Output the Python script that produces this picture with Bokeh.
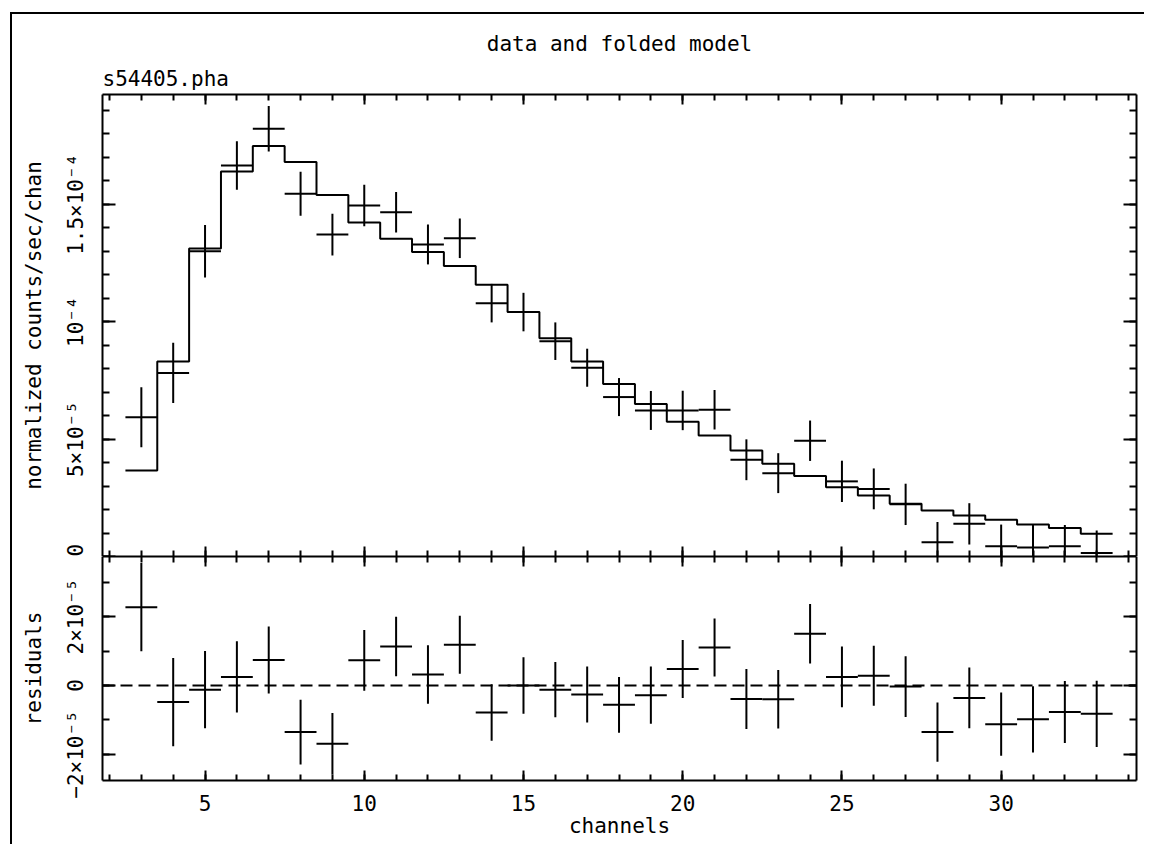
import numpy as np
from bokeh.plotting import figure
from bokeh.models import (LinearAxis, FixedTicker, Range1d, Span, Title,
                          ColumnDataSource, CustomJSTickFormatter)
from bokeh.layouts import column
from bokeh.embed import file_html
from bokeh.resources import INLINE

# ---------------- data (units of 1e-5 counts/sec/chan) ----------------
channels = list(range(3, 34))
data = [5.93, 7.82, 13.00, 16.65, 18.22, 15.45, 13.71, 14.95, 14.66, 13.29,
        13.55, 10.79, 10.41, 9.17, 8.04, 6.79, 6.22, 6.22, 6.25, 4.12,
        3.55, 4.93, 3.20, 2.88, 2.22, 0.61, 1.39, 0.44, 0.38, 0.44, 0.15]
err = [1.28, 1.28, 1.12, 1.03, 0.97, 0.94, 0.89, 0.88, 0.86, 0.85,
       0.84, 0.82, 0.82, 0.80, 0.81, 0.81, 0.83, 0.84, 0.84, 0.87,
       0.85, 0.86, 0.88, 0.87, 0.88, 0.86, 0.88, 0.92, 0.96, 0.90, 0.96]
model = [3.66, 8.30, 13.12, 16.40, 17.48, 16.80, 15.40, 14.22, 13.53, 12.97,
         12.37, 11.57, 10.41, 9.29, 8.30, 7.35, 6.50, 5.74, 5.15, 4.51,
         3.95, 3.43, 2.95, 2.60, 2.25, 1.96, 1.75, 1.56, 1.36, 1.21, 0.97]
unit = 1e-5

top_ticks = [0.0, 5e-5, 1e-4, 1.5e-4]
top_tick_labels = ["0", "5×10⁻⁵", "10⁻⁴", "1.5×10⁻⁴"]
res_ticks = [-2e-5, 0.0, 2e-5]
res_tick_labels = ["−2×10⁻⁵", "0", "2×10⁻⁵"]
x_ticks = [5, 10, 15, 20, 25, 30]
x_tick_labels = ["5", "10", "15", "20", "25", "30"]

title_text = "data and folded model"
file_text = "s54405.pha"
ylabel_top = "normalized counts/sec/chan"
ylabel_bot = "residuals"
xlabel = "channels"

# ---------------- derived columns ----------------
ch = np.array(channels, dtype=float)
d = np.array(data) * unit
e = np.array(err) * unit
m = np.array(model) * unit
r = d - m
half = 0.5

FONT = "DejaVu Sans Mono"
FS = "21px"

x_range = Range1d(1.78, 34.25)
blank = CustomJSTickFormatter(code="return ''")

def style_axis(ax, ticks, minor, labels, major_len, minor_len, show_labels):
    ax.ticker = FixedTicker(ticks=ticks, minor_ticks=minor)
    ax.major_tick_in = major_len
    ax.major_tick_out = 0
    ax.minor_tick_in = minor_len
    ax.minor_tick_out = 0
    ax.major_tick_line_width = 2
    ax.minor_tick_line_width = 2
    ax.major_tick_line_color = "black"
    ax.minor_tick_line_color = "black"
    ax.axis_line_width = 2
    ax.axis_line_color = "black"
    ax.major_label_text_font = FONT
    ax.major_label_text_color = "black"
    ax.major_label_text_font_size = FS
    ax.axis_label_text_font = FONT
    ax.axis_label_text_font_size = FS
    ax.axis_label_text_font_style = "normal"
    ax.axis_label_text_color = "black"
    if show_labels:
        ax.major_label_overrides = {float(t): l for t, l in zip(ticks, labels)}
    else:
        ax.formatter = blank
        ax.major_label_standoff = 0

xminor = list(range(2, 35))
top_minor = [i * 1e-5 for i in range(0, 20)]
res_minor = [i * 1e-5 for i in range(-2, 4)]

# ---------------- top panel ----------------
p1 = figure(width=1132, height=542, x_range=x_range,
            y_range=Range1d(0, 1.9676e-4), output_backend="svg",
            toolbar_location=None, min_border_left=90, min_border_right=8,
            min_border_top=80, min_border_bottom=0)
p1.grid.visible = False
p1.outline_line_color = None
p1.background_fill_color = "white"
p1.border_fill_color = "white"

p1.title.text = title_text
p1.title.align = "center"
p1.title.text_font = FONT
p1.title.text_font_size = FS
p1.title.text_font_style = "normal"
p1.title.text_color = "black"
p1.title.standoff = 10

style_axis(p1.below[0], x_ticks, xminor, x_tick_labels, 10, 6, False)
style_axis(p1.left[0], top_ticks, top_minor, top_tick_labels, 13, 7, True)
p1.left[0].major_label_orientation = "vertical"
p1.left[0].major_label_standoff = 14
p1.left[0].axis_label = ylabel_top
p1.left[0].axis_label_standoff = 16

ax_r = LinearAxis()
style_axis(ax_r, top_ticks, top_minor, top_tick_labels, 13, 7, False)
p1.add_layout(ax_r, "right")
ax_t = LinearAxis()
style_axis(ax_t, x_ticks, xminor, x_tick_labels, 10, 6, False)
p1.add_layout(ax_t, "above")
p1.add_layout(Title(text=file_text, align="left", text_font=FONT, text_color="black",
                    text_font_size=FS, text_font_style="normal", standoff=8), "above")

src = ColumnDataSource(dict(x=ch, xl=ch - half, xr=ch + half, y=d,
                            lo=d - e, hi=d + e, r=r, rlo=r - e, rhi=r + e))
p1.segment(x0="x", y0="lo", x1="x", y1="hi", source=src, line_color="black", line_width=2)
p1.segment(x0="xl", y0="y", x1="xr", y1="y", source=src, line_color="black", line_width=2)

edges = np.append(ch - half, ch[-1] + half)
step_y = np.append(m, m[-1])
p1.step(x=edges, y=step_y, mode="after", line_color="black", line_width=2)

# ---------------- bottom panel ----------------
p2 = figure(width=1132, height=288, x_range=x_range,
            y_range=Range1d(-2.754e-5, 3.74e-5), output_backend="svg",
            toolbar_location=None, min_border_left=90, min_border_right=8,
            min_border_top=0, min_border_bottom=64)
p2.grid.visible = False
p2.outline_line_color = None
p2.background_fill_color = "white"
p2.border_fill_color = "white"

style_axis(p2.below[0], x_ticks, xminor, x_tick_labels, 10, 6, True)
p2.below[0].major_label_standoff = 14
p2.below[0].axis_label = xlabel
p2.below[0].axis_label_standoff = 0
style_axis(p2.left[0], res_ticks, res_minor, res_tick_labels, 13, 7, True)
p2.left[0].major_label_orientation = "vertical"
p2.left[0].major_label_standoff = 14
p2.left[0].axis_label = ylabel_bot
p2.left[0].axis_label_standoff = 16

ax_r2 = LinearAxis()
style_axis(ax_r2, res_ticks, res_minor, res_tick_labels, 13, 7, False)
p2.add_layout(ax_r2, "right")
ax_t2 = LinearAxis()
style_axis(ax_t2, x_ticks, xminor, x_tick_labels, 10, 6, False)
p2.add_layout(ax_t2, "above")

p2.add_layout(Span(location=0, dimension="width", line_color="black",
                   line_width=2, line_dash="12 6"))
p2.segment(x0="x", y0="rlo", x1="x", y1="rhi", source=src, line_color="black", line_width=2)
p2.segment(x0="xl", y0="r", x1="xr", y1="r", source=src, line_color="black", line_width=2)

layout = column(p1, p2, spacing=0, margin=(12, 0, 0, 10),
                styles={"border-left": "2px solid black", "border-top": "2px solid black"})

open("out.html", "w").write(file_html(layout, INLINE))
